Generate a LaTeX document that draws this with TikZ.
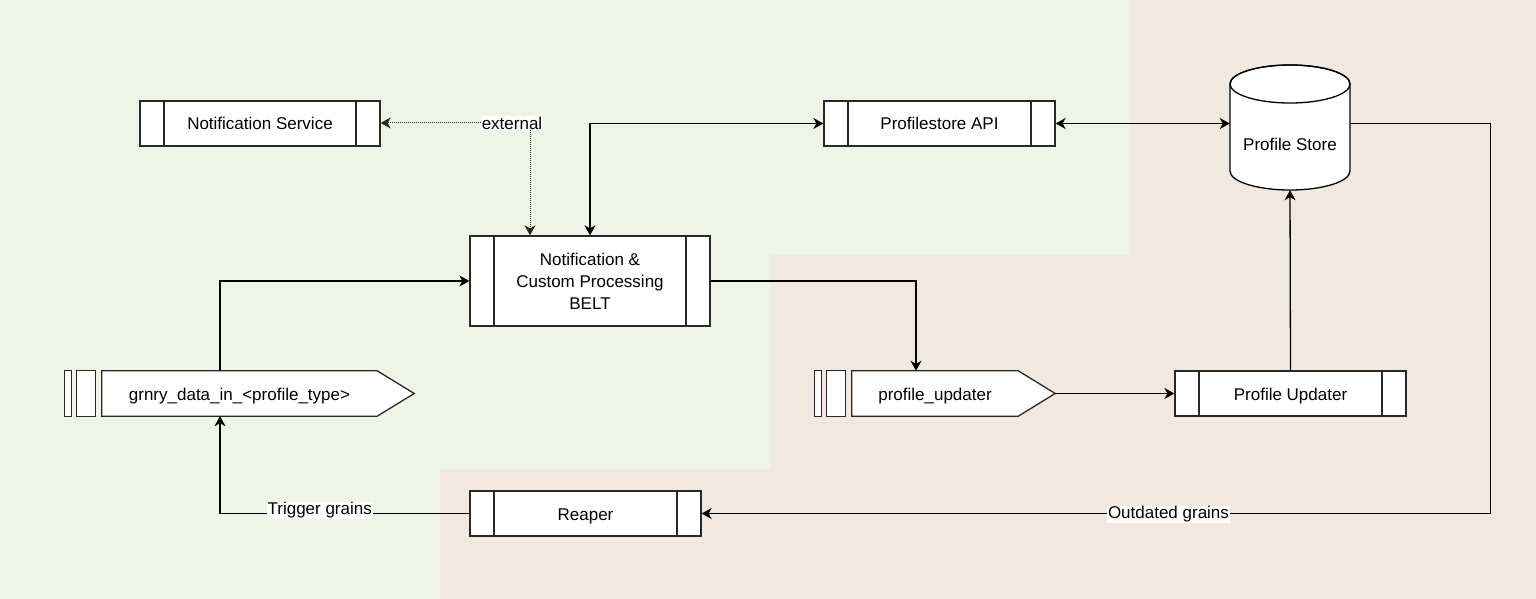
\documentclass[tikz,border=0pt]{standalone}
\usepackage{fontspec}
\setmainfont{Liberation Sans}
\usetikzlibrary{arrows.meta,calc}
\definecolor{bggreen}{RGB}{238,244,230}
\definecolor{bgbeige}{RGB}{241,232,224}
\definecolor{edgecol}{RGB}{40,40,40}
\pgfdeclarelayer{bottom}
\pgfdeclarelayer{shapes}
\pgfsetlayers{bottom,shapes,main}
\tikzset{
  ctip/.tip={Stealth[length=10pt,width=11pt,inset=3pt]},
  txt/.style={font=\fontsize{17}{22}\selectfont, text=black, align=center},
  oneline/.style={text height=13pt, text depth=0pt},
  proc/.style={txt, draw=edgecol, line width=1.3pt, fill=white, minimum height=45pt, inner sep=0pt,
    path picture={\draw[line width=1.3pt, edgecol]
      ([xshift=24pt]path picture bounding box.north west) -- ([xshift=24pt]path picture bounding box.south west)
      ([xshift=-24pt]path picture bounding box.north east) -- ([xshift=-24pt]path picture bounding box.south east);}},
  qnode/.style={txt, oneline, minimum height=45pt, inner sep=0pt},
  qline/.style={draw=edgecol, line width=1.3pt, fill=white, line join=miter},
  conn/.style={line width=1.3pt, draw=black, -ctip},
  dotconn/.style={line width=1pt, draw=black!85, dash pattern=on 1pt off 1pt, -ctip},
  lbl/.style={txt, fill=white, inner sep=1pt},
}
\newcommand\drawqueue[1]{%
  \draw[qline] (#1.north west) rectangle ($(#1.south west)+(6.5,0)$);
  \draw[qline] ($(#1.north west)+(12,0)$) rectangle ($(#1.south west)+(31,0)$);
  \draw[qline] ($(#1.north west)+(37,0)$) -- ($(#1.north east)+(-37,0)$) -- (#1.east)
     -- ($(#1.south east)+(-37,0)$) -- ($(#1.south west)+(37,0)$) -- cycle;}
\begin{document}
\begin{tikzpicture}[x=1pt,y=-1pt]
\useasboundingbox (0,0) rectangle (1536,599);
\begin{pgfonlayer}{bottom}
\fill[bggreen] (0,0) -- (1130,0) -- (1130,255) -- (770,255) -- (770,469) -- (440,469) -- (440,599) -- (0,599) -- cycle;
\fill[bgbeige] (1130,0) -- (1536,0) -- (1536,599) -- (440,599) -- (440,469) -- (770,469) -- (770,255) -- (1130,255) -- cycle;
\end{pgfonlayer}

% process boxes
\node[proc, oneline, minimum width=240pt] (ns) at (260,123.5) {Notification Service};
\node[proc, oneline, minimum width=231pt] (api) at (939.5,123.5) {Profilestore API};
\node[proc, minimum width=240pt, minimum height=90pt] (belt) at (590,281) {Notification \&\\Custom Processing\\BELT};
\node[proc, oneline, minimum width=231pt] (pu) at (1290.5,393.5) {Profile Updater};
\node[proc, oneline, minimum width=231pt] (reaper) at (585.5,513.5) {Reaper};

% queues
\node[qnode, minimum width=349pt] (gq) at (239.5,393.5) {grnry\_data\_in\_<profile\_type>};
\node[qnode, minimum width=240pt] (puq) at (935,393.5) {profile\_updater};
\begin{pgfonlayer}{shapes}
\drawqueue{gq}
\drawqueue{puq}
% cylinder
\filldraw[draw=black, line width=1.3pt, fill=white] (1230,84) -- (1230,171)
  arc[start angle=180, end angle=360, x radius=60pt, y radius=19pt] -- (1350,84)
  arc[start angle=0, end angle=180, x radius=60pt, y radius=19pt] -- cycle;
\draw[black, line width=1.3pt] (1290,84) ellipse[x radius=60pt, y radius=19pt];
\end{pgfonlayer}
\node[minimum width=120pt, minimum height=125pt, inner sep=0pt] (ps) at (1290,127.5) {};
\node[txt] (pslabel) at ($(ps.center)+(0,17)$) {Profile Store};

% external label
\node[lbl] (ext) at (512,123) {external};

% connectors
\draw[dotconn] (ext.west) -- (ext.west -| ns.east);
\draw[dotconn] ([xshift=18pt]ext.south) -- ([xshift=18pt]ext.south |- belt.north);
\draw[conn, ctip-ctip] (belt.north) |- (api.west);
\draw[conn, ctip-ctip] (api.east) -- (api.east -| ps.west);
\draw[conn] (pu.north) -- (ps.south);
\draw[conn] (puq.east) -- (pu.west);
\draw[conn] (belt.east) -| ([xshift=-19pt]puq.north);
\draw[conn] ([xshift=-19.5pt]gq.north) |- (belt.west);
\draw[conn] (api.east -| ps.east) -- ++(140,0) |- (reaper.east) node[pos=0.704, lbl, yshift=-1pt] {Outdated grains};
\draw[conn] (reaper.west) -| ([xshift=-19.5pt]gq.south) node[pos=0.3, lbl, yshift=3pt] {Trigger grains};
\end{tikzpicture}
\end{document}
